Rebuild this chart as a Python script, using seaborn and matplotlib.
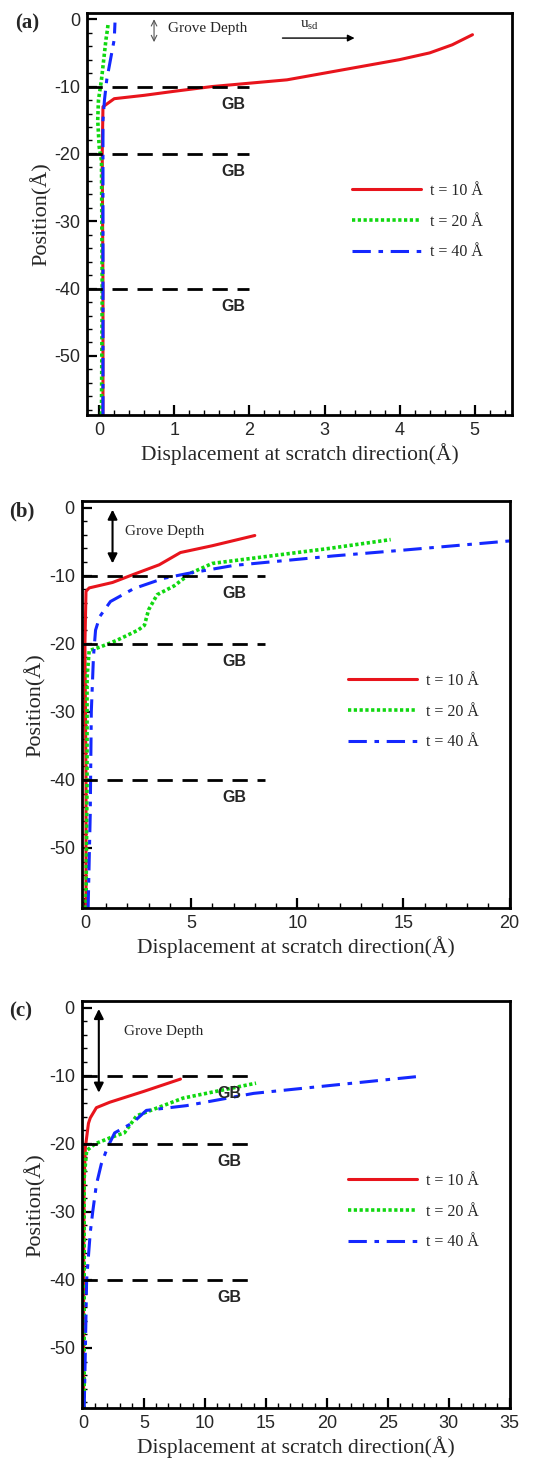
import matplotlib
matplotlib.use("Agg")
import matplotlib.pyplot as plt
from matplotlib.ticker import MultipleLocator
import seaborn as sns

# ---- data (displacement x, position y) ----
a_t10_x = [0.05, 0.05, 0.04, 0.05, 0.2, 0.6, 1.0, 1.5, 2.0, 2.5, 3.0, 3.5, 4.0, 4.4, 4.7, 4.97]
a_t10_y = [-58.7, -40, -20, -13.0, -11.8, -11.3, -10.7, -10.0, -9.5, -9.0, -8.0, -7.0, -6.0, -5.0, -3.8, -2.3]
a_t20_x = [0.03, 0.04, 0.03, 0.0, -0.02, -0.01, 0.03, 0.06, 0.09, 0.11, 0.12]
a_t20_y = [-58.7, -40, -21, -19, -15, -12, -9, -6, -3, -1.5, -0.5]
a_t40_x = [0.05, 0.05, 0.05, 0.05, 0.07, 0.1, 0.15, 0.2, 0.21]
a_t40_y = [-58.7, -40, -20, -15, -12, -9, -6, -3, -0.5]

b_t10_x = [0.05, 0.05, 0.0, 0.05, 0.2, 1.3, 2.3, 3.5, 4.5, 6.0, 8.0]
b_t10_y = [-58.9, -40, -20, -12.3, -11.8, -11.0, -9.8, -8.4, -6.6, -5.6, -4.1]
b_t20_x = [0.05, 0.1, 0.1, 0.2, 0.7, 1.5, 2.5, 2.8, 3.0, 3.4, 4.2, 5.0, 6.0, 8.5, 11.5, 14.4]
b_t20_y = [-58.9, -40, -25, -21, -20.5, -19.5, -18.0, -17.3, -15.0, -12.8, -11.5, -9.6, -8.2, -7.2, -6.0, -4.7]
b_t40_x = [0.15, 0.25, 0.3, 0.4, 0.5, 0.7, 1.2, 2.3, 3.7, 4.8, 7.0, 11.7, 14.8, 20.0]
b_t40_y = [-58.9, -45, -30, -22, -18, -16, -13.8, -11.9, -10.4, -9.7, -8.5, -7.1, -6.3, -4.9]

c_t10_x = [0.05, 0.05, 0.1, 0.2, 0.45, 0.6, 1.1, 2.2, 5.0, 8.0]
c_t10_y = [-59, -40, -25, -20.5, -17, -16.2, -14.7, -13.9, -12.3, -10.5]
c_t20_x = [0.1, 0.1, 0.1, 0.3, 1.0, 2.4, 3.4, 4.4, 6.0, 8.2, 11.2, 14.2]
c_t20_y = [-59, -40, -25, -21, -20.0, -19.0, -18.4, -15.9, -14.8, -13.3, -12.2, -11.1]
c_t40_x = [0.1, 0.2, 0.3, 0.6, 0.8, 1.1, 1.5, 2.0, 2.6, 4.1, 5.2, 8.5, 14.0, 20.5, 27.6]
c_t40_y = [-59, -50, -40, -33, -30, -26, -23, -20.6, -18.4, -16.9, -15.1, -14.4, -12.6, -11.4, -10.1]

labels = ["t = 10 Å", "t = 20 Å", "t = 40 Å"]
gb_levels = [-10, -20, -40]

sns.set_style("ticks")
plt.rcParams["font.family"] = ["Liberation Sans", "DejaVu Sans"]
plt.rcParams["axes.unicode_minus"] = False
plt.rcParams["mathtext.fontset"] = "custom"
plt.rcParams["mathtext.rm"] = "Liberation Serif"

SERIF = ["Liberation Serif", "DejaVu Serif"]
colors = ["#e8141c", "#10d810", "#1428ff"]
styles = ["-", (0, (0.9, 0.7)), (0, (6, 2.5, 1.5, 2.5))]
widths = [2.2, 2.6, 2.2]


def draw_panel(ax, curves, xlim, xmajor, xminor, gb_end, gb_x, tag):
    for (xs, ys), lab, col, ls, lw in zip(curves, labels, colors, styles, widths):
        sns.lineplot(x=xs, y=ys, ax=ax, color=col, linestyle=ls, lw=lw,
                     estimator=None, sort=False, label=lab)
    for lv in gb_levels:
        ax.plot([xlim[0], gb_end], [lv, lv], color="black", lw=2,
                linestyle=(0, (5.5, 3.5)))
        ax.text(gb_x, lv - 2.6, "GB", fontsize=11.5, fontweight="bold",
                ha="center", va="center")
    ax.set_xlim(*xlim)
    ax.set_ylim(-58.8, 0.9)
    ax.xaxis.set_major_locator(MultipleLocator(xmajor))
    ax.xaxis.set_minor_locator(MultipleLocator(xminor))
    ax.yaxis.set_major_locator(MultipleLocator(10))
    ax.yaxis.set_minor_locator(MultipleLocator(2))
    ax.tick_params(which="major", direction="in", length=7, width=1.6,
                   labelsize=13, pad=5, color="black")
    ax.tick_params(which="minor", direction="in", length=3.5, width=1,
                   color="black")
    for sp in ax.spines.values():
        sp.set_linewidth(2)
        sp.set_color("black")
    ax.set_xlabel("Displacement at scratch direction(Å)", family=SERIF,
                  fontsize=15.5, labelpad=3)
    ax.set_ylabel("Position(Å)", family=SERIF, fontsize=16, labelpad=2)
    leg = ax.legend(loc="upper left", bbox_to_anchor=(0.623, 0.578),
                    frameon=False, handlelength=4.3, handletextpad=0.55,
                    labelspacing=0.92, borderaxespad=0, borderpad=0,
                    prop={"family": SERIF, "size": 11.5})
    ax.text(-0.17, 1.0, tag, transform=ax.transAxes, family=SERIF,
            fontsize=15, fontweight="bold", ha="left", va="top")
    return leg


fig = plt.figure(figsize=(5.45, 14.62), dpi=100)
ax_a = fig.add_axes([0.160, 0.716, 0.780, 0.275])
ax_b = fig.add_axes([0.150, 0.379, 0.785, 0.278])
ax_c = fig.add_axes([0.150, 0.037, 0.785, 0.278])

draw_panel(ax_a, [(a_t10_x, a_t10_y), (a_t20_x, a_t20_y), (a_t40_x, a_t40_y)],
           (-0.16, 5.5), 1, 0.2, 2.0, 1.79, "(a)")
draw_panel(ax_b, [(b_t10_x, b_t10_y), (b_t20_x, b_t20_y), (b_t40_x, b_t40_y)],
           (-0.15, 20), 5, 1, 8.5, 7.05, "(b)")
draw_panel(ax_c, [(c_t10_x, c_t10_y), (c_t20_x, c_t20_y), (c_t40_x, c_t40_y)],
           (-0.1, 35), 5, 1, 13.7, 12.0, "(c)")

# annotations
ax_a.annotate("", xy=(0.73, 0.0), xytext=(0.73, -3.4),
              arrowprops=dict(arrowstyle="<->", color="#555555", lw=0.8,
                              shrinkA=0, shrinkB=0))
ax_a.text(0.92, -1.4, "Grove Depth", family=SERIF, fontsize=11, va="center")
ax_a.annotate("", xy=(3.4, -2.8), xytext=(2.44, -2.8),
              arrowprops=dict(arrowstyle="-|>", color="black", lw=1,
                              shrinkA=0, shrinkB=0))
ax_a.text(2.8, -0.9, r"$\mathrm{u_{sd}}$", fontsize=11, ha="center", va="center")

ax_b.annotate("", xy=(1.3, -0.3), xytext=(1.3, -8.2),
              arrowprops=dict(arrowstyle="<|-|>", color="black", lw=1.5,
                              mutation_scale=14, shrinkA=0, shrinkB=0))
ax_b.text(1.9, -3.5, "Grove Depth", family=SERIF, fontsize=11, va="center")

ax_c.annotate("", xy=(1.3, -0.2), xytext=(1.3, -12.5),
              arrowprops=dict(arrowstyle="<|-|>", color="black", lw=1.5,
                              mutation_scale=14, shrinkA=0, shrinkB=0))
ax_c.text(3.4, -3.5, "Grove Depth", family=SERIF, fontsize=11, va="center")

fig.savefig("out.png", dpi=100)
